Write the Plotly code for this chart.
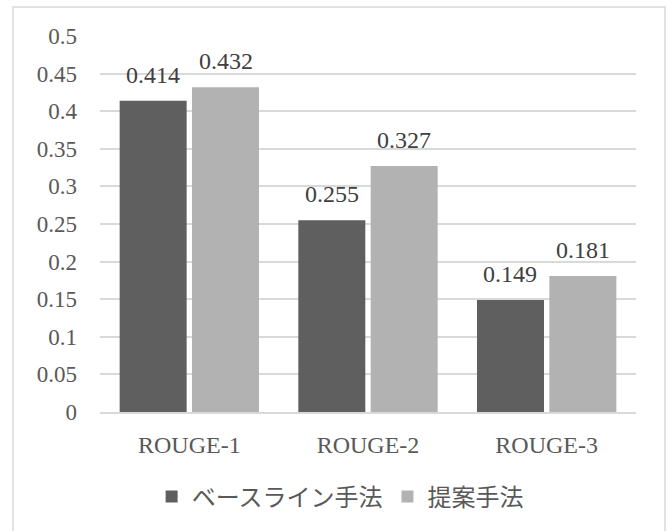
import plotly.graph_objects as go

categories = ["ROUGE-1", "ROUGE-2", "ROUGE-3"]
baseline = [0.414, 0.255, 0.149]
proposed = [0.432, 0.327, 0.181]
series_names = ["ベースライン手法", "提案手法"]
colors = ["#5f5f5f", "#b2b2b2"]
y_ticks = [0, 0.05, 0.1, 0.15, 0.2, 0.25, 0.3, 0.35, 0.4, 0.45, 0.5]
y_tick_text = ["0", "0.05", "0.1", "0.15", "0.2", "0.25", "0.3", "0.35", "0.4", "0.45", "0.5"]

FONT = "Liberation Serif, Noto Sans CJK JP, serif"
BAR_W = 0.375
offsets = [-0.39, 0.015]

fig = go.Figure()
for name, vals, col, off in zip(series_names, [baseline, proposed], colors, offsets):
    fig.add_trace(go.Bar(
        x=categories, y=vals, name=name,
        marker=dict(color=col, line=dict(width=0)),
        width=BAR_W, offset=off,
    ))

annotations = []
for vals, off in zip([baseline, proposed], offsets):
    for i, v in enumerate(vals):
        annotations.append(dict(
            x=i + off + BAR_W / 2, y=v, xref="x", yref="y",
            text=f"{v:.3f}", showarrow=False, yanchor="bottom", yshift=11,
            font=dict(family=FONT, size=24, color="#404040"),
        ))

fig.update_layout(
    width=672, height=531,
    margin=dict(l=100, r=36, t=36, b=119),
    paper_bgcolor="white", plot_bgcolor="white",
    barmode="overlay",
    showlegend=True,
    legend=dict(
        orientation="h", x=0.448, xanchor="center", y=-0.226, yanchor="middle",
        font=dict(family=FONT, size=24, color="#595959"),
        itemsizing="constant",
    ),
    annotations=annotations,
    shapes=[dict(
        type="rect", xref="paper", yref="paper",
        x0=-0.1623, x1=1.0541, y0=-0.325, y1=1.0771,
        line=dict(color="#d9d9d9", width=1.5), fillcolor="rgba(0,0,0,0)", layer="below",
    )],
)
fig.update_xaxes(
    type="category", range=[-0.5, 2.5],
    showgrid=False, showline=True, linecolor="#d9d9d9", linewidth=1.5,
    ticks="", tickfont=dict(family=FONT, size=24, color="#595959"),
    ticklabelstandoff=10,
)
fig.update_yaxes(
    range=[0, 0.5], tickvals=y_ticks, ticktext=y_tick_text,
    showgrid=True, gridcolor="#d9d9d9", gridwidth=1.5,
    zeroline=False, showline=False, ticks="",
    tickfont=dict(family=FONT, size=23, color="#595959"),
    ticklabelstandoff=22,
)
fig.write_html("out.html")
